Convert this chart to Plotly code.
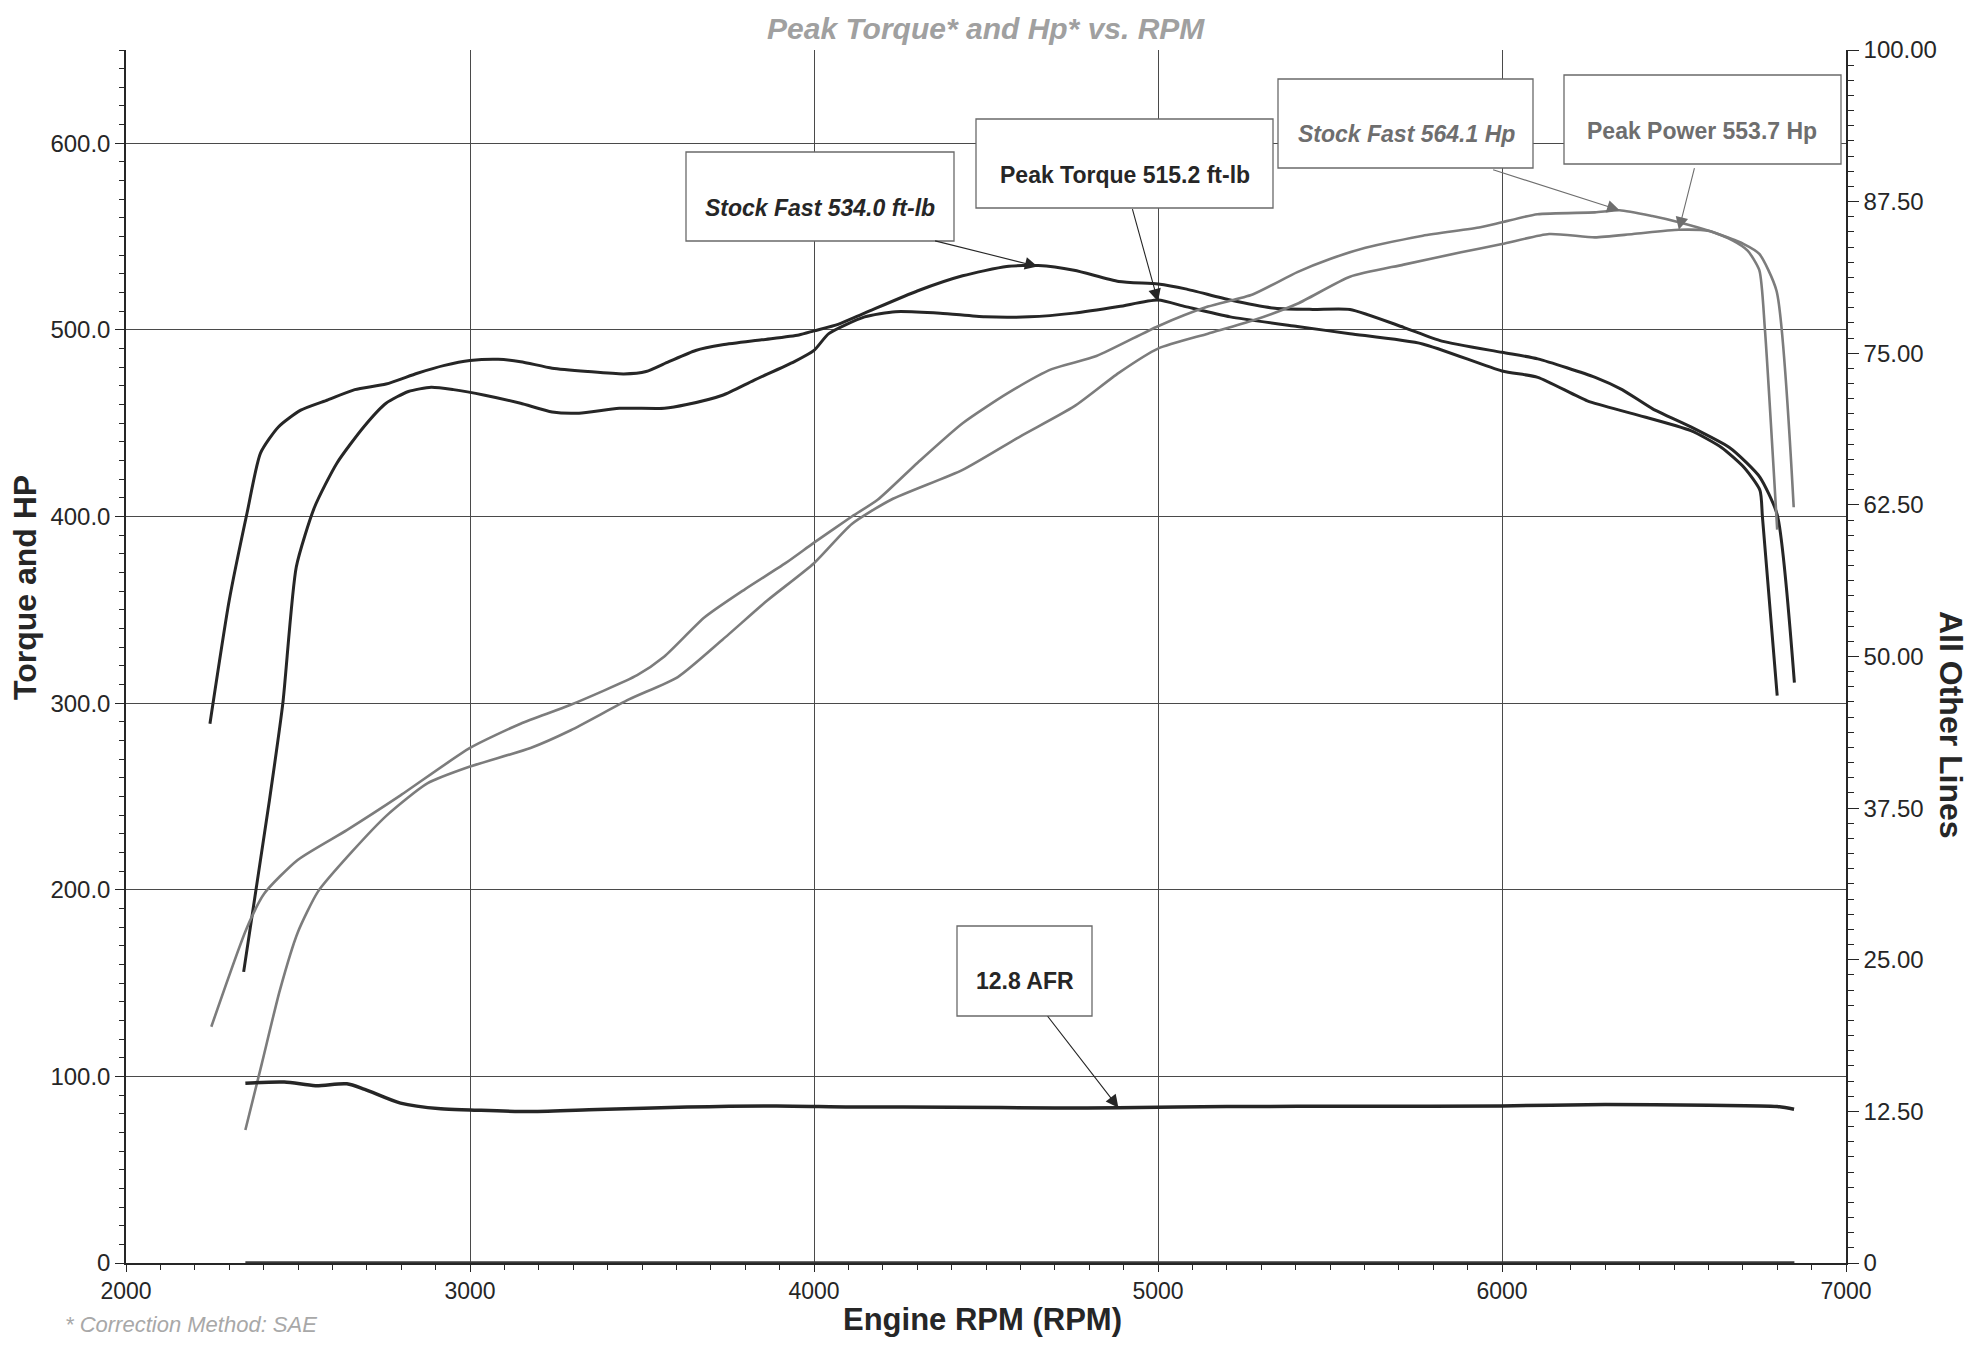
import plotly.graph_objects as go

# ---------------- data ----------------
stock_tq_rpm = [2244, 2300, 2352, 2391, 2443, 2508, 2587, 2665, 2756, 2847, 2926, 3000, 3082, 3147,
                3239, 3343, 3447, 3512, 3578, 3656, 3734, 3848, 3956, 4000, 4070, 4147, 4302, 4432,
                4560, 4652, 4756, 4886, 5000, 5080, 5210, 5340, 5450, 5558, 5714, 5825, 6000, 6104,
                6271, 6349, 6438, 6549, 6661, 6710, 6750, 6800, 6850]
stock_tq = [289, 355, 402, 434, 448, 457, 462.5, 468, 471, 476.8, 481, 483.6, 484.3, 483,
            479.5, 477.7, 476.4, 477.7, 483, 489, 492, 494.7, 497.3, 499.5, 503, 509, 521, 529,
            534, 534.5, 532, 526, 524.6, 522, 516, 511.6, 511, 511, 501.4, 494, 488, 484.5,
            474.6, 468, 457.7, 448, 437, 429, 421, 401, 311]

base_tq_rpm = [2342, 2417, 2456, 2495, 2548, 2613, 2691, 2756, 2821, 2887, 2952, 3043, 3147, 3239,
               3317, 3434, 3565, 3630, 3734, 3825, 3943, 4000, 4043, 4147, 4237, 4367, 4497, 4626,
               4756, 4886, 5000, 5080, 5210, 5405, 5558, 5769, 6000, 6104, 6248, 6382, 6549, 6638,
               6705, 6750, 6757, 6800]
base_tq = [156, 248, 300, 373, 405, 428.6, 448, 460.7, 467, 469.3, 468, 465, 460.7, 456,
           455.4, 458, 458, 460, 465, 473, 483, 489, 498, 507, 509.8, 509, 507, 507,
           509, 512.5, 516, 512.5, 507, 501.8, 498, 492.5, 478, 474.6, 462, 455, 446, 437,
           426, 414, 400, 304]

stock_hp_rpm = [2248, 2350, 2402, 2499, 2642, 2798, 3000, 3147, 3291, 3486, 3565, 3682, 3799, 3917,
                4000, 4110, 4185, 4302, 4432, 4562, 4691, 4821, 5000, 5145, 5275, 5405, 5500, 5603,
                5770, 5937, 6000, 6103, 6270, 6342, 6437, 6514, 6603, 6703, 6748, 6798, 6848]
stock_hp = [126.6, 179, 198, 216, 232, 250.6, 276, 289, 299, 315, 325, 346, 361, 375,
            386, 400, 409, 429, 450, 466, 479, 486, 502, 512.5, 519, 531, 538, 544,
            550.5, 555, 557.7, 562, 563, 564.1, 561, 557.7, 553, 546, 540.7, 521, 405]

base_hp_rpm = [2347, 2395, 2447, 2499, 2558, 2655, 2759, 2876, 3000, 3176, 3293, 3462, 3604, 3734,
               3864, 4000, 4110, 4224, 4432, 4600, 4756, 4886, 5000, 5145, 5275, 5405, 5558, 5714,
               5881, 6000, 6137, 6270, 6381, 6514, 6603, 6670, 6714, 6748, 6764, 6800]
base_hp = [71.3, 107, 146, 177, 199, 220, 240, 257, 266, 276, 285.5, 302, 314, 334,
           355, 375, 396, 409, 425, 443, 459, 477, 490, 498, 505, 514, 528.5, 535,
           541.6, 546, 551.4, 549.6, 551.4, 553.7, 553, 548, 542.5, 532, 501, 393]

afr_rpm = [2347, 2460, 2551, 2642, 2694, 2798, 2915, 3000, 3176, 3371, 3631, 3891, 4109, 4400,
           4700, 4885, 5200, 5600, 6000, 6300, 6600, 6800, 6849]
afr = [14.82, 14.92, 14.62, 14.77, 14.31, 13.18, 12.71, 12.62, 12.48, 12.65, 12.86, 12.95, 12.86, 12.85,
       12.77, 12.8, 12.9, 12.92, 12.95, 13.06, 13.0, 12.9, 12.68]

other_rpm = [2347, 6850]
other_val = [0, 0]

# annotations: text, head rpm, head value, axis
label_text = ["Stock Fast 534.0 ft-lb", "Peak Torque 515.2 ft-lb", "Stock Fast 564.1 Hp",
              "Peak Power 553.7 Hp", "12.8 AFR"]
label_rpm = [4650, 5000, 6342, 6514, 4885]
label_val = [534.0, 515.2, 564.1, 553.7, 12.8]
label_axis = ["y", "y", "y", "y", "y2"]

x_ticks = [2000, 3000, 4000, 5000, 6000, 7000]
left_ticks = [0, 100, 200, 300, 400, 500, 600]
left_ticktext = ["0", "100.0", "200.0", "300.0", "400.0", "500.0", "600.0"]
right_ticks = [0, 12.5, 25, 37.5, 50, 62.5, 75, 87.5, 100]
right_ticktext = ["0", "12.50", "25.00", "37.50", "50.00", "62.50", "75.00", "87.50", "100.00"]

# ---------------- layout geometry ----------------
OFF = 8                      # page body margin
W, H = 1982 - 2 * OFF, 1349 - 2 * OFF
PLOT_L, PLOT_R, PLOT_T, PLOT_B = 126, 1846, 50, 1263     # window pixels
ML, MT = PLOT_L - OFF, PLOT_T - OFF
MR, MB = W - (PLOT_R - OFF), H - (PLOT_B - OFF)
PW, PH = PLOT_R - PLOT_L, PLOT_B - PLOT_T


def px(x, y):
    """window pixel -> paper coords"""
    return (x - PLOT_L) / PW, (PLOT_B - y) / PH


FONT = "Liberation Sans, Arial, sans-serif"
DARK = "#262626"
GRAY = "#7c7c7c"
HPTXT = "#6e6e6e"

fig = go.Figure()
fig.add_trace(go.Scatter(x=stock_tq_rpm, y=stock_tq, mode="lines", name="Stock Fast Torque",
                         line=dict(color=DARK, width=3, shape="spline", smoothing=0.6)))
fig.add_trace(go.Scatter(x=base_tq_rpm, y=base_tq, mode="lines", name="Torque",
                         line=dict(color=DARK, width=3, shape="spline", smoothing=0.6)))
fig.add_trace(go.Scatter(x=stock_hp_rpm, y=stock_hp, mode="lines", name="Stock Fast Hp",
                         line=dict(color=GRAY, width=2.6, shape="spline", smoothing=0.6)))
fig.add_trace(go.Scatter(x=base_hp_rpm, y=base_hp, mode="lines", name="Hp",
                         line=dict(color=GRAY, width=2.6, shape="spline", smoothing=0.6)))
fig.add_trace(go.Scatter(x=afr_rpm, y=afr, mode="lines", name="AFR", yaxis="y2",
                         line=dict(color=DARK, width=3.5, shape="spline", smoothing=0.8)))
fig.add_trace(go.Scatter(x=other_rpm, y=other_val, mode="lines", name="Other", yaxis="y2",
                         line=dict(color="#3a3a3a", width=3.5)))

# boxes (window pixel rectangles)
boxes = [(686, 152, 954, 241), (976, 119, 1273, 208), (1278, 79, 1533, 168),
         (1564, 75, 1841, 164), (957, 926, 1092, 1016)]
for (x0, y0, x1, y1) in boxes:
    a0, b0 = px(x0, y1)
    a1, b1 = px(x1, y0)
    fig.add_shape(type="rect", xref="paper", yref="paper", x0=a0, y0=b0, x1=a1, y1=b1,
                  line=dict(color="#6a6a6a", width=1.3), fillcolor="white", layer="above")

text_pos = [(820, 208), (1125, 175), (1406, 134), (1702, 131), (1025, 981)]
text_style = [("bold", "italic", DARK), ("bold", "normal", DARK), ("bold", "italic", HPTXT),
              ("bold", "normal", HPTXT), ("bold", "normal", DARK)]
arrow_off = [(-104, -26), (-26, -94), (-128, -41), (16, -63), (-72, -93)]
arrow_col = [DARK, DARK, HPTXT, HPTXT, DARK]

for i, t in enumerate(label_text):
    tx, ty = px(*text_pos[i])
    w, st, col = text_style[i]
    fig.add_annotation(x=tx, y=ty, xref="paper", yref="paper", text=t, showarrow=False,
                       xanchor="center", yanchor="middle",
                       font=dict(family=FONT, size=23, color=col, weight=w, style=st))
    fig.add_annotation(x=label_rpm[i], y=label_val[i], xref="x", yref=label_axis[i], text="",
                       showarrow=True, arrowhead=2, arrowsize=2.3, arrowwidth=1.1,
                       arrowcolor=arrow_col[i], ax=arrow_off[i][0], ay=arrow_off[i][1])

# titles


def label(xw, yw, text, font, angle=0, xanchor="center", yanchor="middle"):
    tx, ty = px(xw, yw)
    fig.add_annotation(x=tx, y=ty, xref="paper", yref="paper", text=text, textangle=angle,
                       showarrow=False, xanchor=xanchor, yanchor=yanchor, font=font)


label(986, 10, "Peak Torque* and Hp* vs. RPM",
      dict(family=FONT, size=30, color="#a0a0a0", weight="bold", style="italic"), yanchor="top")
label(25, 588, "Torque and HP", dict(family=FONT, size=32, color=DARK, weight="bold"), angle=-90)
label(982, 1339, "Engine RPM (RPM)", dict(family=FONT, size=31, color=DARK, weight="bold"),
      yanchor="bottom")
label(1951, 725, "All Other Lines", dict(family=FONT, size=32, color=DARK, weight="bold"), angle=90)
label(63, 1339, "* Correction Method: SAE",
      dict(family=FONT, size=22, color="#a8a8a8", style="italic"), xanchor="left", yanchor="bottom")

tickfont = dict(family=FONT, size=24, color=DARK)
fig.update_layout(
    width=W, height=H,
    margin=dict(l=ML, r=MR, t=MT, b=MB, pad=0),
    paper_bgcolor="white", plot_bgcolor="white",
    showlegend=False,
    xaxis=dict(range=[2000, 7000], tickvals=x_ticks, ticks="outside", ticklen=7, tickwidth=1.2,
               tickcolor=DARK, showline=True, linecolor=DARK, linewidth=1.5,
               showgrid=True, gridcolor="#4a4a4a", gridwidth=1, zeroline=False,
               tickfont=dict(family=FONT, size=23, color=DARK),
               minor=dict(dtick=100, ticks="outside", ticklen=5, tickcolor=DARK, showgrid=False)),
    yaxis=dict(range=[0, 650], tickvals=left_ticks, ticktext=left_ticktext, ticks="outside",
               ticklen=9, tickwidth=1.2, tickcolor=DARK, showline=True, linecolor=DARK,
               linewidth=1.5, showgrid=True, gridcolor="#4a4a4a", gridwidth=1, zeroline=False,
               tickfont=tickfont,
               minor=dict(dtick=10, ticks="outside", ticklen=5, tickcolor=DARK, showgrid=False)),
    yaxis2=dict(range=[0, 100], overlaying="y", side="right", tickvals=right_ticks,
                ticktext=right_ticktext, ticks="outside", ticklen=11, tickwidth=1.2,
                tickcolor=DARK, showline=True, linecolor=DARK, linewidth=1.5, showgrid=False,
                zeroline=False, tickfont=tickfont,
                minor=dict(dtick=1.25, ticks="outside", ticklen=6, tickcolor=DARK)),
)

fig.write_html("out.html")
